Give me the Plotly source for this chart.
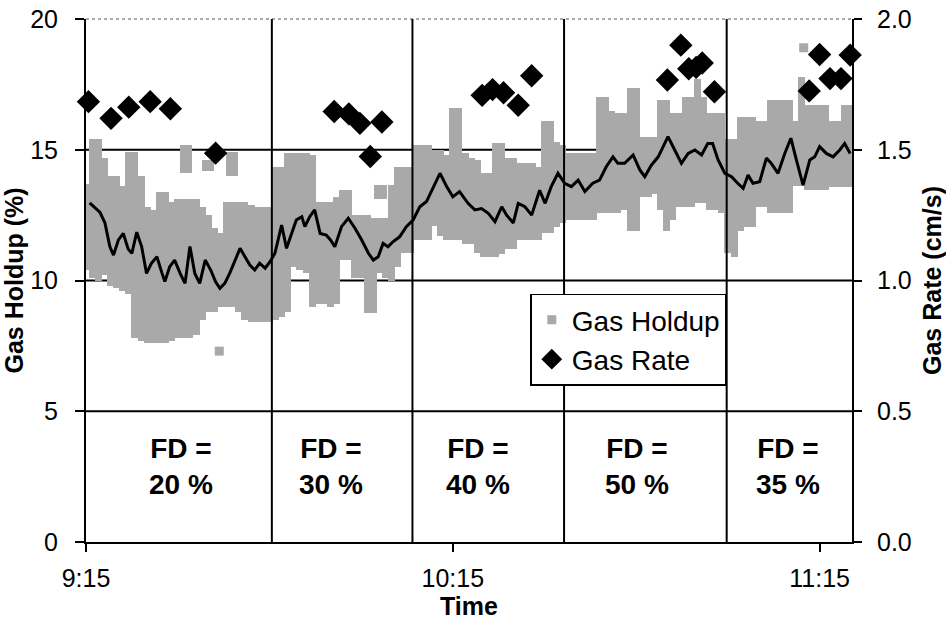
import plotly.graph_objects as go

# ---------------- data (minutes after 9:15) ----------------
# Gas holdup cloud: per-minute envelope (low / high), %
holdup_t = list(range(0, 126))
holdup_hi = [13.7, 15.4, 15.4, 14.7, 14.0, 14.0, 13.6, 14.9, 14.9, 14.0,
             12.8, 12.7, 13.4, 13.4, 13.0, 13.1, 13.1, 13.1, 13.1, 12.8,
             12.5, 12.0, 11.8, 13.0, 13.0, 13.0, 13.0, 12.9, 12.8, 12.8,
             12.8, 14.35, 14.35, 14.87, 14.87, 14.87, 14.87, 14.8, 13.0, 13.0,
             13.0, 13.2, 13.46, 13.46, 12.5, 12.5, 12.5, 12.4, 12.4, 12.4,
             13.65, 14.35, 14.35, 14.35, 15.2, 15.2, 15.2, 15.0, 15.0, 14.8,
             16.6, 16.6, 14.87, 14.7, 14.6, 14.1, 14.1, 15.25, 15.25, 14.7,
             14.7, 14.5, 14.5, 14.5, 14.35, 16.1, 16.1, 15.3, 15.2, 14.87,
             14.87, 14.87, 14.87, 14.87, 17.0, 17.0, 16.5, 16.4, 16.4, 17.35,
             17.35, 15.5, 15.5, 15.5, 16.9, 16.9, 16.4, 16.4, 17.0, 17.0,
             17.7, 17.0, 16.4, 16.4, 16.4, 15.4, 15.4, 16.25, 16.25, 16.25,
             16.1, 16.1, 16.9, 16.9, 16.9, 16.9, 16.1, 17.8, 16.7, 16.7,
             16.7, 16.7, 16.1, 16.1, 16.7, 16.7]
holdup_lo = [10.4, 10.1, 10.0, 10.2, 9.8, 9.7, 9.6, 9.5, 7.8, 7.7,
             7.6, 7.6, 7.6, 7.6, 7.7, 7.8, 7.8, 7.8, 7.9, 8.5,
             8.8, 8.8, 9.0, 9.0, 9.0, 8.8, 8.5, 8.4, 8.4, 8.4,
             8.4, 8.5, 8.6, 8.8, 10.5, 10.4, 10.3, 9.0, 9.1, 9.1,
             9.0, 9.1, 10.8, 10.8, 10.1, 10.1, 8.75, 8.75, 10.3, 10.1,
             10.0, 10.5, 11.05, 11.05, 11.55, 11.55, 11.55, 12.1, 11.7, 11.55,
             11.55, 11.55, 11.4, 11.4, 11.05, 10.9, 10.9, 10.9, 11.0, 11.2,
             11.2, 11.55, 11.55, 11.55, 11.55, 11.8, 11.8, 12.05, 12.2, 12.3,
             12.3, 12.3, 12.3, 12.3, 12.6, 12.6, 12.6, 12.6, 12.7, 11.9,
             11.9, 13.2, 13.2, 13.3, 12.7, 11.9, 12.3, 12.8, 12.8, 12.8,
             12.95, 12.95, 12.7, 12.7, 12.6, 11.05, 10.9, 11.9, 12.05, 12.05,
             12.8, 12.8, 12.6, 12.6, 12.6, 12.6, 13.6, 13.6, 13.46, 13.46,
             13.46, 13.46, 13.58, 13.58, 13.58, 13.58]

# detached blocks of holdup points above the main cloud
block_t = [15.9, 16.8, 19.5, 20.3, 23.5, 24.3, 47.7, 48.7]
block_lo = [14.1, 14.1, 14.2, 14.2, 14.0, 14.0, 13.1, 13.1]
block_hi = [15.2, 15.2, 14.6, 14.6, 14.9, 14.9, 13.65, 13.65]

# isolated holdup points
single_t = [21.8, 117.4]
single_h = [7.3, 18.9]

# moving-average line through the holdup
avg_t = [0.6, 1.5, 2.3, 3.1, 3.9, 4.5, 5.3, 6.1, 6.9, 7.5, 8.3, 9.1, 9.9, 10.7,
         11.6, 12.4, 12.9, 13.7, 14.5, 15.4, 16.2, 17.0, 17.8, 18.6, 19.5, 20.4,
         21.2, 21.9, 22.7, 23.5, 24.4, 25.2, 26.0, 26.8, 27.6, 28.4, 29.3, 30.1,
         30.9, 32.0, 32.8, 33.6, 34.4, 35.3, 35.8, 36.6, 37.4, 38.3, 39.3, 40.0,
         40.7, 41.8, 42.9, 44.0, 45.1, 46.2, 47.0, 47.8, 48.6, 49.4, 50.2, 51.3,
         52.4, 53.5, 54.6, 55.7, 56.8, 57.9, 59.0, 60.0, 61.1, 62.5, 63.6, 64.7,
         65.8, 66.9, 68.0, 68.8, 69.9, 70.7, 71.8, 72.9, 74.2, 75.1, 76.1, 77.2,
         78.3, 79.4, 80.5, 81.6, 82.9, 84.0, 85.1, 86.2, 87.0, 88.1, 89.5, 90.6,
         91.4, 92.5, 93.6, 95.2, 96.3, 97.4, 98.5, 99.6, 100.7, 101.7, 102.5,
         103.4, 104.5, 105.6, 106.6, 107.5, 108.3, 109.1, 110.2, 111.3, 112.1,
         113.2, 114.3, 115.3, 116.2, 117.3, 118.4, 119.2, 120.0, 121.1, 122.2,
         123.3, 124.1, 125.0]
avg_h = [12.97, 12.76, 12.6, 12.2, 11.3, 10.97, 11.55, 11.8, 11.2, 11.04, 11.85,
         11.3, 10.27, 10.66, 10.91, 10.3, 9.96, 10.53, 10.78, 10.27, 9.89, 11.3,
         10.27, 9.89, 10.78, 10.4, 9.95, 9.7, 9.89, 10.27, 10.78, 11.23, 10.91,
         10.59, 10.4, 10.66, 10.47, 10.72, 11.04, 12.12, 11.23, 11.8, 12.31, 12.44,
         12.06, 12.44, 12.7, 11.8, 11.74, 11.55, 11.29, 12.06, 12.38, 12.0, 11.55,
         11.04, 10.78, 10.91, 11.42, 11.29, 11.48, 11.67, 12.06, 12.31, 12.82,
         13.02, 13.59, 14.1, 13.59, 13.2, 13.4, 12.95, 12.7, 12.75, 12.57, 12.25,
         12.82, 12.5, 12.2, 12.95, 12.82, 12.5, 13.45, 12.95, 13.59, 14.1, 13.72,
         13.59, 13.84, 13.4, 13.72, 13.84, 14.35, 14.73, 14.48, 14.48, 14.8, 14.23,
         13.97, 14.42, 14.73, 15.5, 14.99, 14.48, 14.86, 14.99, 14.8, 15.24, 15.24,
         14.61, 14.1, 13.97, 13.72, 13.52, 14.03, 13.72, 13.78, 14.68, 14.48, 14.1,
         14.86, 15.44, 14.61, 13.65, 14.61, 14.73, 15.12, 14.86, 14.73, 14.99,
         15.24, 14.86]

# gas rate, cm/s
rate_t = [0.4, 4.1, 7.0, 10.5, 13.8, 21.2, 40.6, 43.0, 44.8, 46.5, 48.4,
          64.8, 66.5, 68.3, 70.7, 72.9, 95.1, 97.3, 98.6, 99.8, 100.8, 102.8,
          118.3, 120.0, 121.7, 123.5, 125.0]
rate_v = [1.684, 1.62, 1.663, 1.684, 1.657, 1.487, 1.646, 1.637, 1.601, 1.474,
          1.606, 1.708, 1.73, 1.718, 1.67, 1.783, 1.767, 1.9, 1.81, 1.815,
          1.832, 1.722, 1.725, 1.864, 1.772, 1.772, 1.862]

# froth-depth phases
phase_bounds = [30.4, 53.4, 78.2, 104.8]
phase_label_t = [15.5, 40.1, 64.2, 90.1, 114.8]
phase_labels = ["20 %", "30 %", "40 %", "50 %", "35 %"]

time_tick_vals = [0, 60, 120]
time_tick_text = ["9:15", "10:15", "11:15"]
holdup_ticks = [0, 5, 10, 15, 20]
rate_ticks = [0.0, 0.5, 1.0, 1.5, 2.0]
grid_levels = [5, 10, 15]

# ---------------- figure ----------------
GRAY = "#a9a9a9"
TICKFONT = dict(family="Liberation Sans Narrow, Arial Narrow, Liberation Sans, Arial",
                size=25, color="black")
TITLEFONT = dict(family="Liberation Sans, Arial", size=25, color="black", weight="bold")

fig = go.Figure()

fig.add_trace(go.Bar(
    x=holdup_t, y=[h - l for h, l in zip(holdup_hi, holdup_lo)], base=holdup_lo,
    width=1.15, marker=dict(color=GRAY, line=dict(width=0)),
    showlegend=False, hoverinfo="skip", yaxis="y"))
fig.add_trace(go.Bar(
    x=block_t, y=[h - l for h, l in zip(block_hi, block_lo)], base=block_lo,
    width=1.15, marker=dict(color=GRAY, line=dict(width=0)),
    showlegend=False, hoverinfo="skip", yaxis="y"))
fig.add_trace(go.Scatter(
    x=single_t, y=single_h, mode="markers", name="Gas Holdup",
    marker=dict(symbol="square", size=9, color=GRAY), yaxis="y"))
fig.add_trace(go.Scatter(
    x=avg_t, y=avg_h, mode="lines", line=dict(color="black", width=3),
    showlegend=False, yaxis="y"))
fig.add_trace(go.Scatter(
    x=rate_t, y=rate_v, mode="markers", name="Gas Rate", cliponaxis=False,
    marker=dict(symbol="diamond", size=18, color="black"), yaxis="y2"))

shapes = []
for g in grid_levels:
    shapes.append(dict(type="line", xref="paper", x0=0, x1=1, yref="y", y0=g, y1=g,
                       line=dict(color="black", width=2), layer="below"))
shapes.append(dict(type="line", xref="paper", x0=0, x1=1, yref="paper", y0=1, y1=1,
                   line=dict(color="#555555", width=1.2, dash="dot"), layer="above"))
for b in phase_bounds:
    shapes.append(dict(type="line", xref="x", x0=b, x1=b, yref="paper", y0=0, y1=1,
                       line=dict(color="black", width=2), layer="above"))

annotations = []
for t, lab in zip(phase_label_t, phase_labels):
    annotations.append(dict(x=t, y=2.87, xref="x", yref="y", text="FD =<br>" + lab,
                            showarrow=False, align="center",
                            font=dict(family="Liberation Sans, Arial", size=28,
                                      color="black", weight="bold")))

fig.update_layout(
    width=946, height=625,
    margin=dict(l=86, r=94, t=19, b=83, pad=0, autoexpand=False),
    paper_bgcolor="white", plot_bgcolor="white",
    barmode="overlay", bargap=0,
    shapes=shapes, annotations=annotations,
    showlegend=True,
    legend=dict(x=0.58, y=0.475, xanchor="left", yanchor="top",
                bgcolor="white", bordercolor="black", borderwidth=1.5,
                font=dict(family="Liberation Sans, Arial", size=28, color="black"),
                itemsizing="trace", tracegroupgap=0),
    xaxis=dict(range=[0, 125.3], tickvals=time_tick_vals, ticktext=time_tick_text,
               ticks="outside", ticklen=8, tickwidth=2, tickcolor="black",
               showline=True, linecolor="black", linewidth=2, showgrid=False,
               zeroline=False, tickfont=TICKFONT, ticklabelstandoff=5,
               automargin=False,
               title=dict(text="Time", font=TITLEFONT, standoff=4)),
    yaxis=dict(range=[0, 20], tickvals=holdup_ticks, ticks="outside", ticklen=9,
               tickwidth=2, tickcolor="black", showline=True, linecolor="black",
               linewidth=2, showgrid=False, zeroline=False, tickfont=TICKFONT,
               ticklabelstandoff=12, automargin=False,
               title=dict(text="Gas Holdup (%)", font=TITLEFONT, standoff=0)),
    yaxis2=dict(range=[0, 2], overlaying="y", side="right", tickvals=rate_ticks,
                ticktext=["%.1f" % v for v in rate_ticks], ticks="outside", ticklen=8,
                tickwidth=2, tickcolor="black", showline=True, linecolor="black",
                linewidth=2, showgrid=False, zeroline=False, tickfont=TICKFONT,
                ticklabelstandoff=10, automargin=False,
                title=dict(text="Gas Rate (cm/s)", font=TITLEFONT, standoff=15)),
)

fig.write_html("out.html")
